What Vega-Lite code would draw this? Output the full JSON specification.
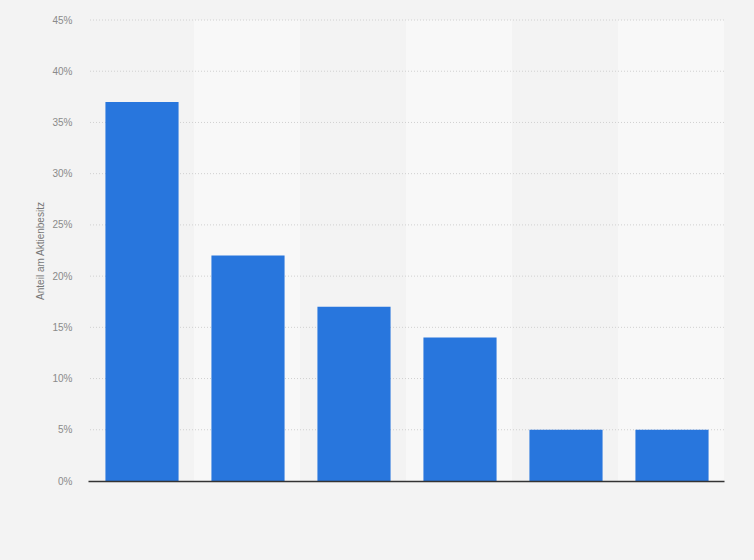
{
  "$schema": "https://vega.github.io/schema/vega-lite/v6.json",
  "autosize": "none",
  "width": 636,
  "height": 461,
  "padding": {"left": 88, "top": 20, "right": 30, "bottom": 79},
  "background": "#f3f3f3",
  "config": {
    "view": {"stroke": null},
    "font": "Liberation Sans",
    "axis": {"labelFont": "Liberation Sans", "titleFont": "Liberation Sans"}
  },
  "datasets": {
    "anteile": [
      {"kategorie": "1", "anteil": 37},
      {"kategorie": "2", "anteil": 22},
      {"kategorie": "3", "anteil": 17},
      {"kategorie": "4", "anteil": 14},
      {"kategorie": "5", "anteil": 5},
      {"kategorie": "6", "anteil": 5}
    ],
    "gitter": [
      {"wert": 5}, {"wert": 10}, {"wert": 15}, {"wert": 20}, {"wert": 25},
      {"wert": 30}, {"wert": 35}, {"wert": 40}, {"wert": 45}
    ]
  },
  "data": {"name": "anteile"},
  "resolve": {"scale": {"y": "shared"}},
  "layer": [
    {
      "mark": {"type": "rect"},
      "encoding": {
        "x": {
          "field": "kategorie",
          "type": "nominal",
          "sort": null,
          "scale": {"paddingInner": 0, "paddingOuter": 0},
          "axis": {
            "title": null,
            "labels": false,
            "ticks": false,
            "domainColor": "#333333",
            "domainWidth": 1.5,
            "grid": false,
            "zindex": 2
          }
        },
        "fill": {
          "field": "kategorie",
          "type": "nominal",
          "sort": null,
          "scale": {"range": ["#f3f3f3", "#f8f8f8", "#f3f3f3", "#f8f8f8", "#f3f3f3", "#f8f8f8"]},
          "legend": null
        }
      }
    },
    {
      "data": {"name": "gitter"},
      "mark": {"type": "rule", "color": "#d0d0d0", "strokeDash": [1, 2], "strokeWidth": 1},
      "encoding": {
        "y": {"field": "wert", "type": "quantitative"}
      }
    },
    {
      "mark": {"type": "bar", "color": "#2876dd", "width": {"band": 0.69}, "xOffset": 1},
      "encoding": {
        "x": {"field": "kategorie", "type": "nominal", "sort": null},
        "y": {
          "field": "anteil",
          "type": "quantitative",
          "scale": {"domain": [0, 45]},
          "axis": {
            "title": "Anteil am Aktienbesitz",
            "titleFontSize": 10,
            "titleFontWeight": "normal",
            "titleColor": "#777777",
            "titlePadding": 6,
            "values": [0, 5, 10, 15, 20, 25, 30, 35, 40, 45],
            "labelExpr": "datum.value + '%'",
            "labelFontSize": 10,
            "labelColor": "#8a8a8a",
            "labelPadding": 16,
            "ticks": false,
            "domain": false,
            "grid": false
          }
        }
      }
    }
  ]
}
